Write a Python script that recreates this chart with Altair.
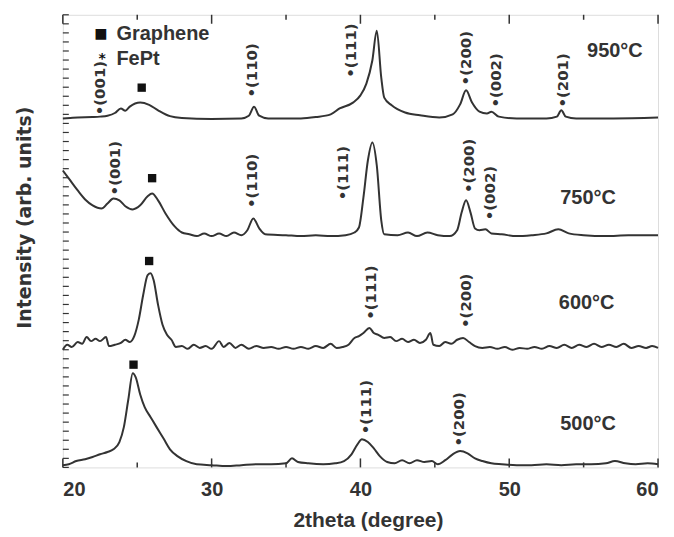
import altair as alt
import pandas as pd

# ---------------- data ----------------
temps = ["950°C", "750°C", "600°C", "500°C"]
offsets = [77.1, 51.5, 26.4, 0.5]

x_950 = [20.0, 20.5, 21.0, 22.0, 22.5, 23.0, 23.5, 23.9, 24.2, 24.5, 25.2, 25.8, 26.4, 27.2, 28.0, 30.0,
         32.0, 32.5, 32.85, 33.2, 33.8, 36.0, 37.0, 38.0, 38.6, 39.5, 40.0, 40.4, 40.8, 41.1, 41.4, 41.6,
         42.1, 43.0, 44.0, 45.3, 46.2, 46.7, 47.1, 47.5, 48.0, 48.5, 48.8, 49.3, 50.5, 52.5, 53.2, 53.5,
         53.8, 54.5, 57.0, 60.0]
i_950 = [0.0, 0.1, 0.2, 0.3, 0.4, 0.6, 1.2, 2.2, 1.7, 2.6, 3.5, 3.0, 1.8, 0.5, 0.1, -0.1,
         0.0, 0.6, 2.6, 0.6, 0.0, 0.0, 0.3, 0.9, 2.2, 3.5, 5.1, 7.7, 12.8, 19.4, 9.0, 4.6,
         2.9, 1.3, 0.7, 0.2, 0.9, 3.1, 6.2, 3.5, 1.5, 1.1, 1.5, 0.4, 0.0, 0.0, 0.4, 1.8,
         0.4, 0.0, 0.0, 0.2]

x_750 = [20.0, 20.5, 21.0, 21.5, 22.0, 22.6, 23.0, 23.4, 23.8, 24.2, 24.7, 25.2, 25.7, 26.0, 26.4, 26.9,
         27.5, 28.0, 28.5, 29.0, 29.5, 30.0, 30.5, 31.0, 31.5, 32.0, 32.4, 32.8, 33.2, 33.6, 35.0, 36.0,
         37.0, 38.0, 39.0, 39.6, 39.9, 40.2, 40.5, 40.8, 41.1, 41.4, 41.6, 42.5, 43.2, 43.8, 44.5, 45.2,
         46.0, 46.5, 46.8, 47.1, 47.4, 47.7, 48.0, 48.4, 48.8, 49.5, 50.5, 51.5, 52.5, 53.3, 54.0, 55.0,
         56.5, 58.0, 60.0]
i_750 = [14.1, 11.9, 9.7, 7.7, 6.4, 5.7, 6.8, 7.9, 7.5, 6.2, 5.5, 6.4, 8.4, 9.0, 7.5, 4.6,
         1.8, 0.4, 0.0, -0.4, 0.2, -0.4, 0.2, -0.4, 0.4, -0.2, 0.9, 3.5, 1.3, 0.0, -0.2, -0.4,
         -0.2, -0.4, -0.2, 0.4, 1.5, 8.1, 16.3, 20.3, 15.2, 3.1, 0.0, -0.2, 0.4, -0.4, 0.4, -0.2,
         -0.4, 0.9, 4.8, 7.5, 4.8, 1.3, 0.9, 1.1, 0.2, 0.0, -0.4, -0.2, 0.2, 1.1, 0.2, -0.2,
         -0.4, -0.2, -0.2]

x_600 = [20.0, 20.3, 20.6, 21.0, 21.3, 21.6, 21.9, 22.2, 22.5, 22.9, 23.1, 23.5, 23.9, 24.2, 24.5, 24.8,
         25.1, 25.4, 25.7, 25.9, 26.1, 26.4, 26.7, 27.0, 27.3, 27.6, 28.0, 28.4, 28.8, 29.2, 29.6, 30.0,
         30.5, 30.8, 31.2, 31.6, 32.0, 32.5, 33.0, 33.5, 34.0, 34.5, 35.0, 35.5, 36.0, 36.5, 37.0, 37.5,
         38.0, 38.4, 38.8, 39.2, 39.6, 39.9, 40.2, 40.6, 40.9, 41.2, 41.6, 42.0, 42.4, 42.8, 43.2, 43.6,
         44.0, 44.4, 44.7, 44.9, 45.3, 45.7, 46.1, 46.5, 46.9, 47.3, 47.7, 48.2, 48.7, 49.2, 49.7, 50.2,
         50.7, 51.2, 51.7, 52.2, 52.7, 53.2, 53.7, 54.2, 54.7, 55.2, 55.7, 56.2, 56.7, 57.2, 57.7, 58.2,
         58.7, 59.2, 59.6, 60.0]
i_600 = [-0.4, 0.7, 0.2, 1.3, 0.9, 2.4, 1.5, 2.0, 1.5, 2.4, 0.4, 0.7, 1.1, 1.8, 1.3, 2.6,
         6.2, 11.7, 16.1, 16.5, 15.0, 9.5, 5.1, 2.9, 1.8, 0.2, 0.4, -0.2, 0.7, 0.0, 0.4, -0.2,
         1.5, 0.2, 1.1, 0.0, 0.7, -0.2, 0.4, 0.0, 0.2, -0.2, 0.2, -0.2, 0.2, -0.2, 0.4, 0.0,
         0.9, 0.0, 0.2, 0.7, 2.2, 2.6, 3.3, 4.4, 3.3, 2.9, 2.2, 2.4, 1.5, 2.0, 1.3, 1.8,
         1.1, 1.8, 3.3, 0.7, 0.4, 1.3, 0.9, 1.8, 2.2, 1.3, 0.4, 0.0, 0.2, -0.2, 0.2, -0.4,
         0.0, -0.2, 0.2, -0.2, 0.4, 0.0, 0.7, 0.0, 0.7, 0.2, 0.9, 0.2, 0.7, 0.2, 0.9, 0.0,
         0.4, 0.0, 0.4, 0.0]

x_500 = [20.0, 20.4, 20.9, 21.5, 22.0, 22.5, 23.0, 23.4, 23.8, 24.1, 24.4, 24.7, 24.9, 25.2, 25.5, 25.9,
         26.3, 26.8, 27.2, 27.7, 28.3, 29.0, 30.0, 31.0, 32.0, 33.0, 34.0, 35.0, 35.4, 35.8, 36.5, 37.5,
         38.3, 38.9, 39.4, 39.8, 40.1, 40.5, 40.9, 41.3, 41.8, 42.3, 42.8, 43.3, 43.8, 44.3, 44.8, 45.2,
         45.7, 46.2, 46.7, 47.2, 47.7, 48.2, 48.8, 49.5, 50.5, 51.5, 52.5, 53.5, 54.5, 55.5, 56.5, 57.1,
         57.8, 58.5, 59.3, 60.0]
i_500 = [0.0, 0.2, 0.9, 1.3, 1.8, 2.4, 2.9, 3.5, 5.1, 8.4, 14.5, 20.3, 19.4, 15.6, 12.8, 10.6,
         8.4, 5.7, 3.5, 2.0, 0.9, 0.2, 0.0, -0.2, 0.0, 0.2, 0.2, 0.4, 1.5, 0.7, 0.4, 0.2,
         0.4, 0.9, 2.4, 4.6, 5.7, 5.1, 3.7, 2.0, 0.7, 0.4, 1.1, 0.4, 1.1, 0.7, 0.9, 0.2,
         1.1, 2.4, 3.1, 2.6, 1.5, 0.9, 0.4, 0.2, 0.0, 0.0, 0.2, 0.0, 0.2, 0.2, 0.4, 0.9,
         0.4, 0.2, 0.4, 0.2]

# peak (hkl) labels
peak_text = ["•(001)", "•(110)", "•(111)", "•(200)", "•(002)", "•(201)",
             "•(001)", "•(110)", "•(111)", "•(200)", "•(002)",
             "•(111)", "•(200)",
             "•(111)", "•(200)"]
peak_x = [22.5, 32.7, 39.4, 47.1, 49.1, 53.6,
          23.5, 32.7, 38.8, 47.3, 48.7,
          40.7, 47.1,
          40.4, 46.6]
peak_y = [77.8, 81.7, 86.1, 84.4, 79.5, 79.5,
          60.1, 57.3, 59.0, 60.6, 54.6,
          32.6, 30.8,
          7.3, 4.6]

# graphene markers
graphene_x = [25.3, 26.0, 25.8, 24.75]
graphene_y = [83.9, 63.9, 45.6, 22.7]

# temperature labels
temp_x = [57.1, 55.3, 55.2, 55.3]
temp_y = [92.1, 59.5, 36.3, 9.5]

# legend
legend_sym = ["■", "*"]
legend_text = ["Graphene", "FePt"]
legend_x = [23.6, 23.6]
legend_sym_x = [22.55, 22.65]
legend_y = [95.8, 90.3]

x_major = [20, 30, 40, 50, 60]
x_minor = [25, 35, 45, 55]
y_ticks = list(range(0, 101, 2))

# ---------------- build ----------------
W, H = 597, 454
INK = "#333333"

xs = [x_950, x_750, x_600, x_500]
ins = [i_950, i_750, i_600, i_500]
rows = []
for t, off, xx, ii in zip(temps, offsets, xs, ins):
    for a, b in zip(xx, ii):
        rows.append({"x": a, "y": b + off, "series": t})
lines_df = pd.DataFrame(rows)

xscale = alt.Scale(domain=[20, 60], nice=False, zero=False)
yscale = alt.Scale(domain=[0, 100], nice=False, zero=False)

xaxis = alt.Axis(values=x_major, format="d", title="2theta (degree)", grid=False, ticks=False,
                 tickSize=0, domain=False, labelFont="Liberation Sans", labelFontSize=20,
                 labelFontWeight="bold", labelColor=INK, labelPadding=22, labelBaseline="middle",
                 titleFont="Liberation Sans", titleFontSize=21, titleFontWeight="bold",
                 titleColor=INK, titleX=306, titleY=53, titleBaseline="middle")
yaxis = alt.Axis(labels=False, ticks=False, tickSize=0, domain=False, grid=False,
                 title="Intensity (arb. units)", titleFont="DejaVu Sans", titleFontSize=19,
                 titleFontWeight="bold", titleColor=INK, titleX=-38, titleY=203,
                 titleBaseline="middle", titleAngle=270)

lines = alt.Chart(lines_df).mark_line(color=INK, strokeWidth=2, interpolate="monotone").encode(
    x=alt.X("x:Q", scale=xscale, axis=xaxis),
    y=alt.Y("y:Q", scale=yscale, axis=yaxis),
    detail="series:N",
)

peaks_df = pd.DataFrame({"x": peak_x, "y": peak_y, "t": peak_text})
peaks = alt.Chart(peaks_df).mark_text(angle=270, align="left", baseline="middle",
                                      font="DejaVu Sans", fontSize=15, fontWeight="bold",
                                      color=INK).encode(
    x=alt.X("x:Q", scale=xscale), y=alt.Y("y:Q", scale=yscale), text="t:N")

gr_df = pd.DataFrame({"x": graphene_x, "y": graphene_y})
squares = alt.Chart(gr_df).mark_square(size=70, color="#111111", opacity=1).encode(
    x=alt.X("x:Q", scale=xscale), y=alt.Y("y:Q", scale=yscale))

temp_df = pd.DataFrame({"x": temp_x, "y": temp_y, "t": temps})
temp_text = alt.Chart(temp_df).mark_text(align="center", baseline="middle", font="Liberation Sans",
                                         fontSize=20, fontWeight="bold", color=INK).encode(
    x=alt.X("x:Q", scale=xscale), y=alt.Y("y:Q", scale=yscale), text="t:N")

leg_df = pd.DataFrame({"x": legend_x, "sx": legend_sym_x, "y": legend_y,
                       "t": legend_text, "s": legend_sym})
leg_text = alt.Chart(leg_df).mark_text(align="left", baseline="middle", font="Liberation Sans",
                                       fontSize=20, fontWeight="bold", color=INK).encode(
    x=alt.X("x:Q", scale=xscale), y=alt.Y("y:Q", scale=yscale), text="t:N")
leg_sym = alt.Chart(leg_df).mark_text(align="center", baseline="middle", font="DejaVu Sans",
                                      fontSize=14, fontWeight="bold", color="#111111").encode(
    x=alt.X("sx:Q", scale=xscale), y=alt.Y("y:Q", scale=yscale), text="s:N")

# inward ticks
xmaj_df = pd.DataFrame({"x": x_major})
xmin_df = pd.DataFrame({"x": x_minor})
yt_df = pd.DataFrame({"y": y_ticks})
tick_style = dict(color=INK, strokeWidth=1.5)
bot_major = alt.Chart(xmaj_df).mark_rule(**tick_style).encode(
    x=alt.X("x:Q", scale=xscale), y=alt.value(H), y2=alt.value(H - 9))
bot_minor = alt.Chart(xmin_df).mark_rule(**tick_style).encode(
    x=alt.X("x:Q", scale=xscale), y=alt.value(H), y2=alt.value(H - 5))
top_major = alt.Chart(xmaj_df).mark_rule(**tick_style).encode(
    x=alt.X("x:Q", scale=xscale), y=alt.value(0), y2=alt.value(9))
top_minor = alt.Chart(xmin_df).mark_rule(**tick_style).encode(
    x=alt.X("x:Q", scale=xscale), y=alt.value(0), y2=alt.value(5))
left_ticks = alt.Chart(yt_df).mark_rule(color=INK, strokeWidth=1.2).encode(
    y=alt.Y("y:Q", scale=yscale), x=alt.value(0), x2=alt.value(6))

chart = alt.layer(
    lines, bot_major, bot_minor, top_major, top_minor, left_ticks,
    peaks, squares, temp_text, leg_text, leg_sym
).properties(
    width=W, height=H,
    autosize=alt.AutoSizeParams(type="none"),
    padding={"left": 55, "top": 6, "right": 8, "bottom": 69},
).configure_view(
    stroke=INK, strokeWidth=2
).configure(background="white")

chart.save("out.html", embed_options={"renderer": "svg", "actions": False})
